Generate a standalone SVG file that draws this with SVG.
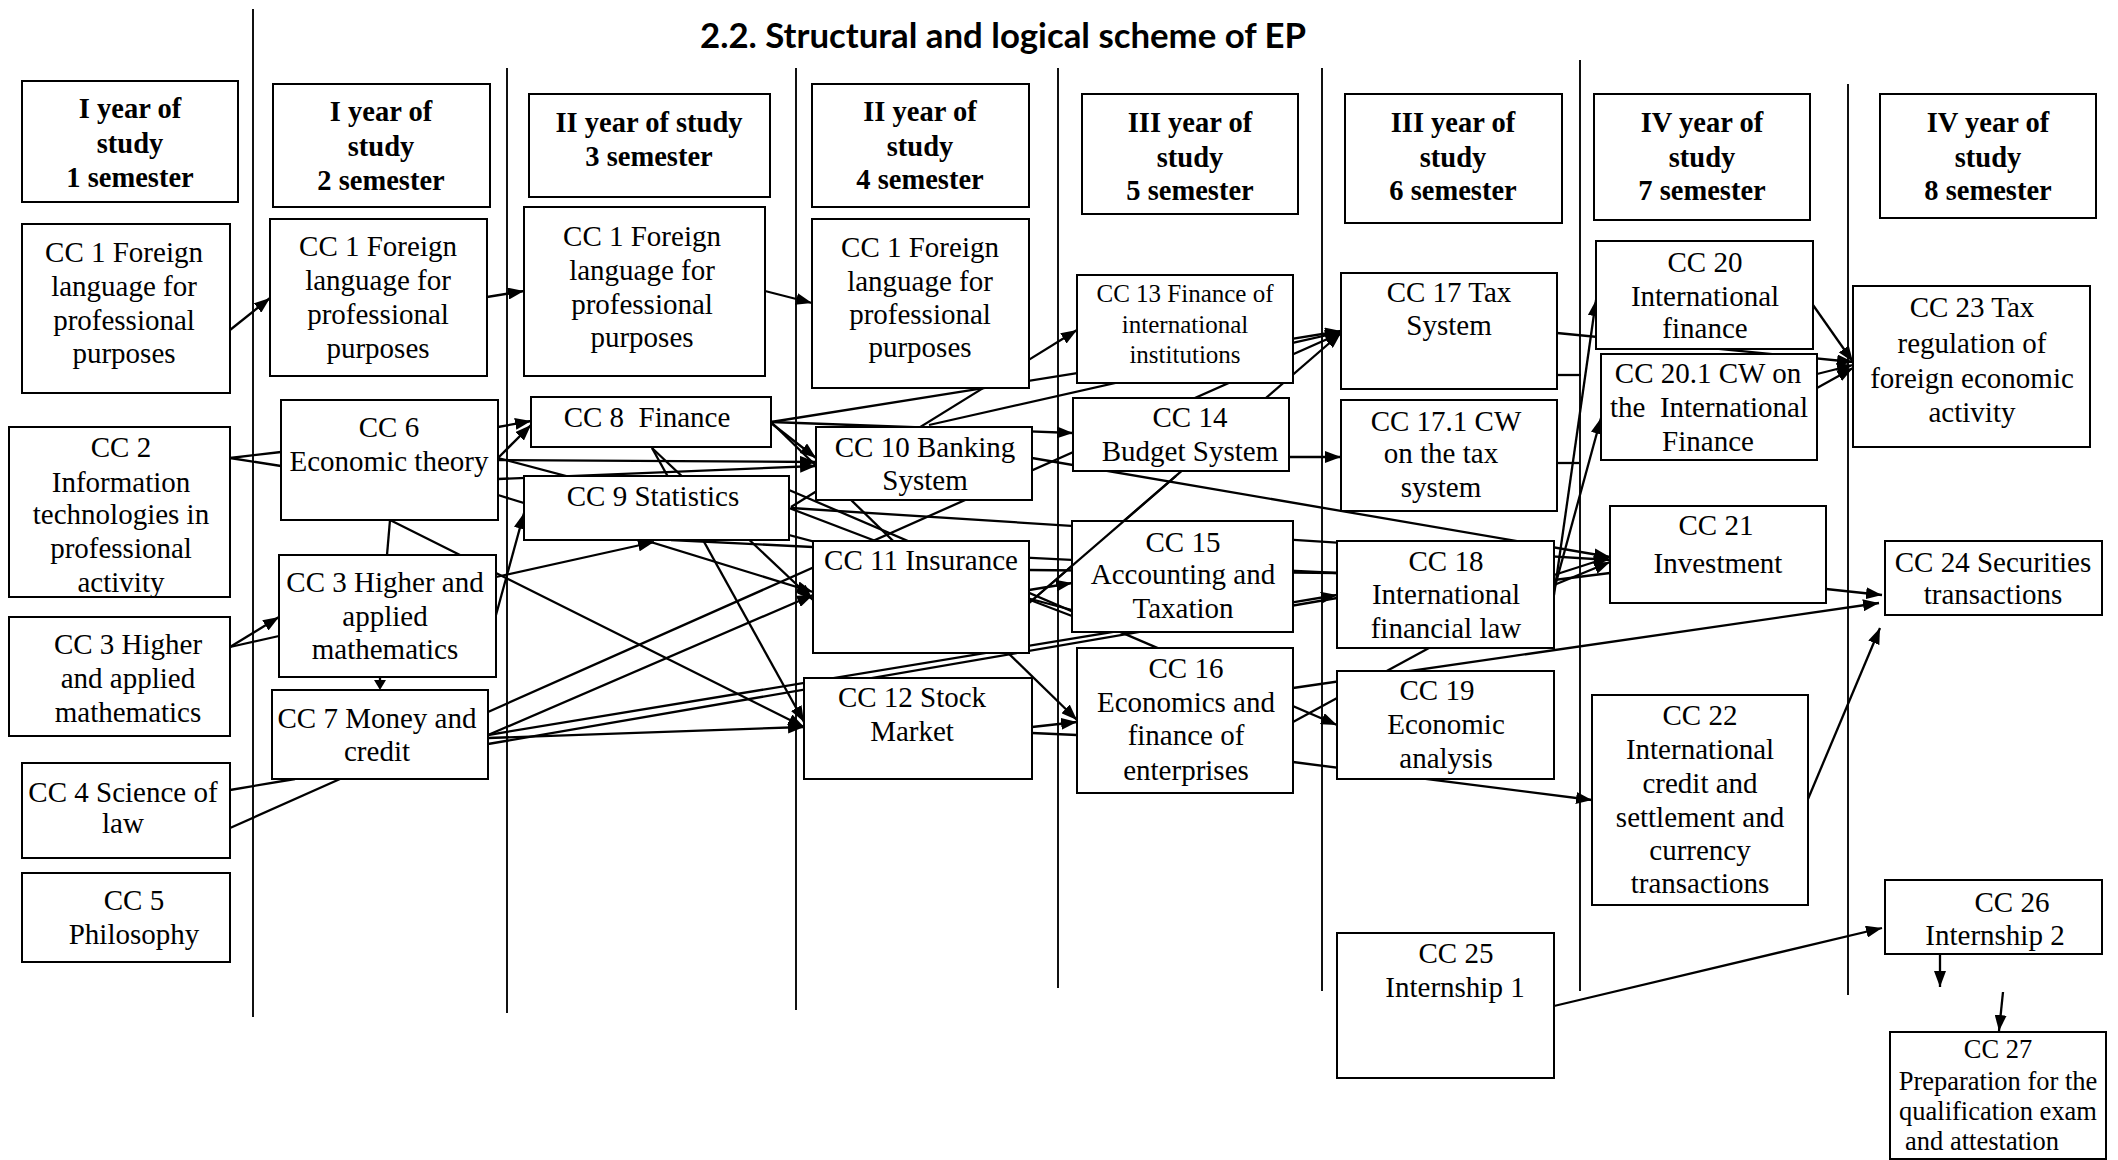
<svg xmlns="http://www.w3.org/2000/svg" width="2118" height="1160" viewBox="0 0 2118 1160">
<style>
.bg{fill:#fff}
.vl{stroke:#111;stroke-width:2}
.box{fill:#fff;stroke:#000;stroke-width:2}
.t{font-family:"Liberation Serif","Times New Roman",serif;font-size:29px;text-anchor:middle;fill:#000}
.h{font-weight:bold;font-size:28.5px}
.s25{font-size:25px}
.s26{font-size:26.5px}
.c{stroke:#000;stroke-width:2.3;fill:none}
.a{marker-end:url(#ah)}
.title{font-family:Lato,"Liberation Sans",sans-serif;font-weight:bold;font-size:34px;fill:#000}
</style>
<defs>
<marker id="ah" markerUnits="userSpaceOnUse" markerWidth="16" markerHeight="12" refX="16" refY="6" orient="auto">
<path d="M0,0 L16,6 L0,12 z" fill="#000"/>
</marker>
<clipPath id="clip2"><rect x="9" y="427" width="221" height="170"/></clipPath>
</defs>
<rect class="bg" x="0" y="0" width="2118" height="1160"/>
<text class="title" x="700" y="48" textLength="606" lengthAdjust="spacingAndGlyphs">2.2. Structural and logical scheme of EP</text>
<g id="columns">
<line class="vl" x1="253" y1="9" x2="253" y2="1017"/>
<line class="vl" x1="507" y1="68" x2="507" y2="1013"/>
<line class="vl" x1="796" y1="68" x2="796" y2="1010"/>
<line class="vl" x1="1058" y1="68" x2="1058" y2="988"/>
<line class="vl" x1="1322" y1="68" x2="1322" y2="991"/>
<line class="vl" x1="1580" y1="60" x2="1580" y2="991"/>
<line class="vl" x1="1848" y1="84" x2="1848" y2="995"/>
</g>
<g id="connectors">
<line class="c a" x1="230" y1="330" x2="270" y2="298"/>
<line class="c" x1="230" y1="458" x2="281" y2="452"/>
<line class="c" x1="230" y1="458" x2="281" y2="466"/>
<line class="c a" x1="230" y1="647" x2="279" y2="617"/>
<line class="c" x1="230" y1="647" x2="279" y2="636"/>
<line class="c" x1="230" y1="790" x2="295" y2="779"/>
<line class="c" x1="230" y1="828" x2="340" y2="779"/>
<line class="c" x1="390" y1="520" x2="387" y2="555"/>
<line class="c a" x1="390" y1="520" x2="804" y2="727"/>
<line class="c" x1="380" y1="677" x2="380" y2="682"/>
<path d="M374,680 L386,680 L380,690 z" fill="#000"/>
<line class="c a" x1="487" y1="297" x2="524" y2="291"/>
<line class="c a" x1="498" y1="427" x2="531" y2="421"/>
<line class="c a" x1="498" y1="458" x2="531" y2="425"/>
<line class="c a" x1="498" y1="460" x2="816" y2="462"/>
<line class="c a" x1="498" y1="479" x2="816" y2="466"/>
<line class="c" x1="498" y1="458" x2="1072" y2="610"/>
<line class="c a" x1="498" y1="495" x2="813" y2="592"/>
<line class="c a" x1="496" y1="615" x2="524" y2="513"/>
<line class="c a" x1="496" y1="577" x2="654" y2="542"/>
<line class="c a" x1="488" y1="712" x2="1341" y2="333"/>
<line class="c a" x1="488" y1="735" x2="813" y2="595"/>
<line class="c a" x1="488" y1="738" x2="804" y2="727"/>
<line class="c a" x1="488" y1="735" x2="1337" y2="595"/>
<line class="c" x1="488" y1="744" x2="1337" y2="598"/>
<line class="c a" x1="765" y1="291" x2="812" y2="303"/>
<line class="c a" x1="771" y1="423" x2="816" y2="458"/>
<line class="c a" x1="771" y1="422" x2="1073" y2="433"/>
<line class="c a" x1="771" y1="422" x2="1341" y2="331"/>
<line class="c a" x1="771" y1="422" x2="1077" y2="720"/>
<line class="c a" x1="652" y1="448" x2="813" y2="600"/>
<line class="c a" x1="652" y1="448" x2="804" y2="722"/>
<line class="c a" x1="791" y1="507" x2="1077" y2="330"/>
<line class="c a" x1="791" y1="508" x2="1610" y2="560"/>
<line class="c" x1="789" y1="508" x2="1072" y2="616"/>
<line class="c a" x1="789" y1="490" x2="1337" y2="725"/>
<line class="c" x1="671" y1="540" x2="1337" y2="573"/>
<line class="c a" x1="929" y1="425" x2="1341" y2="332"/>
<line class="c a" x1="1032" y1="458" x2="1610" y2="557"/>
<line class="c a" x1="1029" y1="590" x2="1072" y2="583"/>
<line class="c" x1="1029" y1="570" x2="1337" y2="573"/>
<line class="c a" x1="1029" y1="603" x2="1341" y2="333"/>
<line class="c a" x1="1032" y1="727" x2="1077" y2="722"/>
<line class="c" x1="1032" y1="733" x2="1077" y2="735"/>
<line class="c a" x1="1289" y1="457" x2="1341" y2="457"/>
<line class="c a" x1="1293" y1="688" x2="1879" y2="603"/>
<line class="c a" x1="1293" y1="762" x2="1592" y2="800"/>
<line class="c" x1="1293" y1="722" x2="1429" y2="648"/>
<line class="c a" x1="1557" y1="333" x2="1853" y2="362"/>
<line class="c" x1="1557" y1="375" x2="1581" y2="375"/>
<line class="c" x1="1557" y1="463" x2="1579" y2="463"/>
<line class="c a" x1="1554" y1="595" x2="1596" y2="300"/>
<line class="c a" x1="1554" y1="590" x2="1601" y2="418"/>
<line class="c a" x1="1554" y1="575" x2="1610" y2="557"/>
<line class="c a" x1="1554" y1="585" x2="1610" y2="562"/>
<line class="c" x1="1554" y1="580" x2="1610" y2="573"/>
<line class="c a" x1="1813" y1="305" x2="1853" y2="362"/>
<line class="c a" x1="1817" y1="374" x2="1853" y2="365"/>
<line class="c a" x1="1817" y1="388" x2="1853" y2="368"/>
<line class="c a" x1="1826" y1="589" x2="1882" y2="595"/>
<line class="c a" x1="1808" y1="799" x2="1880" y2="628"/>
<line class="c a" x1="1554" y1="1006" x2="1882" y2="928"/>
<line class="c a" x1="1940" y1="955" x2="1940" y2="987"/>
<line class="c a" x1="2003" y1="992" x2="1999" y2="1031"/>
</g>
<g id="headers">
<g id="h1"><rect class="box" x="22" y="81" width="216" height="121"/><text class="t h" x="130"><tspan x="130" y="118">I year of</tspan><tspan x="130" y="153">study</tspan><tspan x="130" y="187">1 semester</tspan></text></g>
<g id="h2"><rect class="box" x="273" y="84" width="217" height="123"/><text class="t h"><tspan x="381" y="121">I year of</tspan><tspan x="381" y="156">study</tspan><tspan x="381" y="190">2 semester</tspan></text></g>
<g id="h3"><rect class="box" x="529" y="94" width="241" height="103"/><text class="t h"><tspan x="649" y="132">II year of study</tspan><tspan x="649" y="166">3 semester</tspan></text></g>
<g id="h4"><rect class="box" x="812" y="84" width="217" height="123"/><text class="t h"><tspan x="920" y="121">II year of</tspan><tspan x="920" y="156">study</tspan><tspan x="920" y="189">4 semester</tspan></text></g>
<g id="h5"><rect class="box" x="1082" y="94" width="216" height="120"/><text class="t h"><tspan x="1190" y="132">III year of</tspan><tspan x="1190" y="167">study</tspan><tspan x="1190" y="200">5 semester</tspan></text></g>
<g id="h6"><rect class="box" x="1345" y="94" width="217" height="129"/><text class="t h"><tspan x="1453" y="132">III year of</tspan><tspan x="1453" y="167">study</tspan><tspan x="1453" y="200">6 semester</tspan></text></g>
<g id="h7"><rect class="box" x="1594" y="94" width="216" height="126"/><text class="t h"><tspan x="1702" y="132">IV year of</tspan><tspan x="1702" y="167">study</tspan><tspan x="1702" y="200">7 semester</tspan></text></g>
<g id="h8"><rect class="box" x="1880" y="94" width="216" height="124"/><text class="t h"><tspan x="1988" y="132">IV year of</tspan><tspan x="1988" y="167">study</tspan><tspan x="1988" y="200">8 semester</tspan></text></g>
</g>
<g id="cc1a"><rect class="box" x="22" y="224" width="208" height="169"/><text class="t"><tspan x="124" y="262">CC 1 Foreign</tspan><tspan x="124" y="296">language for</tspan><tspan x="124" y="330">professional</tspan><tspan x="124" y="363">purposes</tspan></text></g>
<g id="cc1b"><rect class="box" x="270" y="219" width="217" height="157"/><text class="t"><tspan x="378" y="256">CC 1 Foreign</tspan><tspan x="378" y="290">language for</tspan><tspan x="378" y="324">professional</tspan><tspan x="378" y="358">purposes</tspan></text></g>
<g id="cc1c"><rect class="box" x="524" y="207" width="241" height="169"/><text class="t"><tspan x="642" y="246">CC 1 Foreign</tspan><tspan x="642" y="280">language for</tspan><tspan x="642" y="314">professional</tspan><tspan x="642" y="347">purposes</tspan></text></g>
<g id="cc1d"><rect class="box" x="812" y="219" width="217" height="169"/><text class="t"><tspan x="920" y="257">CC 1 Foreign</tspan><tspan x="920" y="291">language for</tspan><tspan x="920" y="324">professional</tspan><tspan x="920" y="357">purposes</tspan></text></g>
<g id="cc2"><rect class="box" x="9" y="427" width="221" height="170"/><text class="t" clip-path="url(#clip2)"><tspan x="121" y="457">CC 2</tspan><tspan x="121" y="492">Information</tspan><tspan x="121" y="524">technologies in</tspan><tspan x="121" y="558">professional</tspan><tspan x="121" y="592">activity</tspan></text><rect x="9" y="427" width="221" height="170" fill="none" stroke="#000" stroke-width="2"/></g>
<g id="cc3a"><rect class="box" x="9" y="617" width="221" height="119"/><text class="t"><tspan x="128" y="654">CC 3 Higher</tspan><tspan x="128" y="688">and applied</tspan><tspan x="128" y="722">mathematics</tspan></text></g>
<g id="cc4"><rect class="box" x="22" y="763" width="208" height="95"/><text class="t"><tspan x="123" y="802">CC 4 Science of</tspan><tspan x="123" y="833">law</tspan></text></g>
<g id="cc5"><rect class="box" x="22" y="873" width="208" height="89"/><text class="t"><tspan x="134" y="910">CC 5</tspan><tspan x="134" y="944">Philosophy</tspan></text></g>
<g id="cc6"><rect class="box" x="281" y="400" width="217" height="120"/><text class="t"><tspan x="389" y="437">CC 6</tspan><tspan x="389" y="471">Economic theory</tspan></text></g>
<g id="cc3b"><rect class="box" x="279" y="555" width="217" height="122"/><text class="t"><tspan x="385" y="592">CC 3 Higher and</tspan><tspan x="385" y="626">applied</tspan><tspan x="385" y="659">mathematics</tspan></text></g>
<g id="cc7"><rect class="box" x="272" y="690" width="216" height="89"/><text class="t"><tspan x="377" y="728">CC 7 Money and</tspan><tspan x="377" y="761">credit</tspan></text></g>
<g id="cc8"><rect class="box" x="531" y="397" width="240" height="50"/><text class="t" xml:space="preserve"><tspan x="647" y="427">CC 8  Finance</tspan></text></g>
<g id="cc9"><rect class="box" x="524" y="476" width="265" height="64"/><text class="t"><tspan x="653" y="506">CC 9 Statistics</tspan></text></g>
<g id="cc10"><rect class="box" x="816" y="427" width="216" height="73"/><text class="t"><tspan x="925" y="457">CC 10 Banking</tspan><tspan x="925" y="490">System</tspan></text></g>
<g id="cc11"><rect class="box" x="813" y="541" width="216" height="112"/><text class="t"><tspan x="921" y="570">CC 11 Insurance</tspan></text></g>
<g id="cc12"><rect class="box" x="804" y="678" width="228" height="101"/><text class="t"><tspan x="912" y="707">CC 12 Stock</tspan><tspan x="912" y="741">Market</tspan></text></g>
<g id="cc13"><rect class="box" x="1077" y="275" width="216" height="108"/><text class="t s25"><tspan x="1185" y="302">CC 13 Finance of</tspan><tspan x="1185" y="333">international</tspan><tspan x="1185" y="363">institutions</tspan></text></g>
<g id="cc14"><rect class="box" x="1073" y="398" width="216" height="73"/><text class="t"><tspan x="1190" y="427">CC 14</tspan><tspan x="1190" y="461">Budget System</tspan></text></g>
<g id="cc15"><rect class="box" x="1072" y="521" width="221" height="111"/><text class="t"><tspan x="1183" y="552">CC 15</tspan><tspan x="1183" y="584">Accounting and</tspan><tspan x="1183" y="618">Taxation</tspan></text></g>
<g id="cc16"><rect class="box" x="1077" y="648" width="216" height="145"/><text class="t"><tspan x="1186" y="678">CC 16</tspan><tspan x="1186" y="712">Economics and</tspan><tspan x="1186" y="745">finance of</tspan><tspan x="1186" y="780">enterprises</tspan></text></g>
<g id="cc17"><rect class="box" x="1341" y="273" width="216" height="116"/><text class="t"><tspan x="1449" y="302">CC 17 Tax</tspan><tspan x="1449" y="335">System</tspan></text></g>
<g id="cc17-1"><rect class="box" x="1341" y="400" width="216" height="111"/><text class="t"><tspan x="1446" y="431">CC 17.1 CW</tspan><tspan x="1441" y="463">on the tax</tspan><tspan x="1441" y="497">system</tspan></text></g>
<g id="cc18"><rect class="box" x="1337" y="541" width="217" height="107"/><text class="t"><tspan x="1446" y="571">CC 18</tspan><tspan x="1446" y="604">International</tspan><tspan x="1446" y="638">financial law</tspan></text></g>
<g id="cc19"><rect class="box" x="1337" y="671" width="217" height="108"/><text class="t"><tspan x="1437" y="700">CC 19</tspan><tspan x="1446" y="734">Economic</tspan><tspan x="1446" y="768">analysis</tspan></text></g>
<g id="cc25"><rect class="box" x="1337" y="933" width="217" height="145"/><text class="t"><tspan x="1456" y="963">CC 25</tspan><tspan x="1455" y="997">Internship 1</tspan></text></g>
<g id="cc20"><rect class="box" x="1596" y="241" width="217" height="108"/><text class="t"><tspan x="1705" y="272">CC 20</tspan><tspan x="1705" y="306">International</tspan><tspan x="1705" y="338">finance</tspan></text></g>
<g id="cc20-1"><rect class="box" x="1601" y="354" width="216" height="106"/><text class="t" xml:space="preserve"><tspan x="1708" y="383">CC 20.1 CW on</tspan><tspan x="1709" y="417">the  International</tspan><tspan x="1708" y="451">Finance</tspan></text></g>
<g id="cc21"><rect class="box" x="1610" y="506" width="216" height="97"/><text class="t"><tspan x="1716" y="535">CC 21</tspan><tspan x="1718" y="573">Investment</tspan></text></g>
<g id="cc22"><rect class="box" x="1592" y="695" width="216" height="210"/><text class="t"><tspan x="1700" y="725">CC 22</tspan><tspan x="1700" y="759">International</tspan><tspan x="1700" y="793">credit and</tspan><tspan x="1700" y="827">settlement and</tspan><tspan x="1700" y="860">currency</tspan><tspan x="1700" y="893">transactions</tspan></text></g>
<g id="cc23"><rect class="box" x="1853" y="286" width="237" height="161"/><text class="t"><tspan x="1972" y="317">CC 23 Tax</tspan><tspan x="1972" y="353">regulation of</tspan><tspan x="1972" y="388">foreign economic</tspan><tspan x="1972" y="422">activity</tspan></text></g>
<g id="cc24"><rect class="box" x="1885" y="541" width="217" height="74"/><text class="t"><tspan x="1993" y="572">CC 24 Securities</tspan><tspan x="1993" y="604">transactions</tspan></text></g>
<g id="cc26"><rect class="box" x="1885" y="880" width="217" height="74"/><text class="t"><tspan x="2012" y="912">CC 26</tspan><tspan x="1995" y="945">Internship 2</tspan></text></g>
<g id="cc27"><rect class="box" x="1890" y="1032" width="216" height="127"/><text class="t s26"><tspan x="1998" y="1058">CC 27</tspan><tspan x="1998" y="1090">Preparation for the</tspan><tspan x="1998" y="1120">qualification exam</tspan><tspan x="1982" y="1150">and attestation</tspan></text></g>
<g id="connectors-top">
<line class="c" x1="1176" y1="476" x2="1029" y2="603"/>
</g>
</svg>
